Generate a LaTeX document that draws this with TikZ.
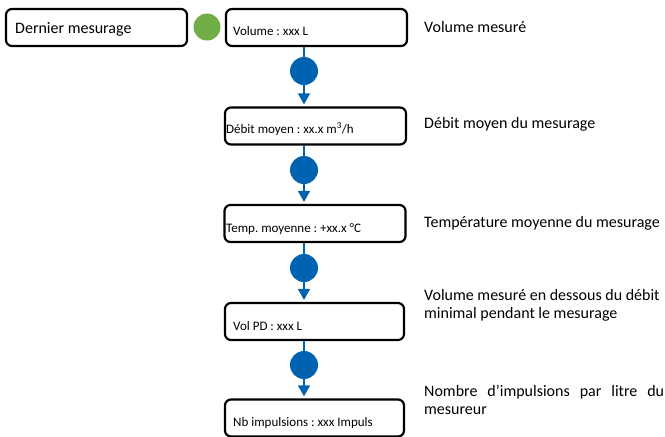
\documentclass[tikz,border=0pt]{standalone}
\usepackage{fontspec}
\setmainfont{Carlito}
\usetikzlibrary{arrows.meta}
\definecolor{flowblue}{RGB}{0,99,177}
\definecolor{dotgreen}{RGB}{112,173,71}
\frenchspacing
\begin{document}
\begin{tikzpicture}[x=1pt,y=-1pt,
  box/.style={draw=black, line width=2.2pt, rounded corners=6pt, minimum width=181pt, minimum height=37pt, inner sep=0pt},
  dot/.style={circle, fill=flowblue, minimum size=28pt, inner sep=0pt},
  gdot/.style={circle, fill=dotgreen, minimum size=27pt, inner sep=0pt},
  lbl/.style={anchor=base west, inner sep=0pt, font=\fontsize{13}{15}\selectfont},
  desc/.style={anchor=base west, inner sep=0pt, font=\fontsize{16}{18}\selectfont, align=left},
  link/.style={draw=flowblue, line width=1.5pt},
  arr/.style={link, -{Triangle[width=12pt,length=11pt]}, shorten >=2pt},
]
\useasboundingbox (0,0) rectangle (665,437);

% boxes
\node[box] (dernier) at (96.5,27.5) {};
\node[box] (vol) at (316.5,27.5) {};
\node[box] (debit) at (315.5,126) {};
\node[box] (temp) at (315,223.5) {};
\node[box, minimum width=179pt] (volpd) at (314.5,321.5) {};
\node[box, minimum width=179pt] (nb) at (314.5,418) {};

% dots
\node[gdot] (g) at (207,27) {};
\node[dot] (d1) at (304,71) {};
\node[dot] (d2) at (304,170) {};
\node[dot] (d3) at (304,268) {};
\node[dot] (d4) at (304,365) {};

% connectors
\draw[link] (vol.south -| d1) -- (d1);
\draw[arr] (d1) -- (debit.north -| d1);
\draw[link] (debit.south -| d2) -- (d2);
\draw[arr] (d2) -- (temp.north -| d2);
\draw[link] (temp.south -| d3) -- (d3);
\draw[arr] (d3) -- (volpd.north -| d3);
\draw[link] (volpd.south -| d4) -- (d4);
\draw[arr] (d4) -- (nb.north -| d4);

% box texts
\node[desc] (tdernier) at (15,33) {Dernier mesurage};
\node[lbl] (tvol) at (233,35) {Volume : xxx L};
\node[lbl] (tdebit) at (226,133) {Débit moyen : xx.x m\textsuperscript{3}/h};
\node[lbl] (ttemp) at (226,232) {Temp. moyenne : +xx.x °C};
\node[lbl] (tvolpd) at (233,330) {Vol PD : xxx L};
\node[lbl] (tnb) at (233,426) {Nb impulsions : xxx Impuls};

% descriptions
\node[desc] (e1) at (424,32) {Volume mesuré};
\node[desc] (e2) at (424,128) {Débit moyen du mesurage};
\node[desc] (e3) at (424,227) {Température moyenne du mesurage};
\node[desc] (e4) at (424,318) {Volume mesuré en dessous du débit\\minimal pendant le mesurage};
\node[desc] (e5) at (424,414) {\hbox to 240pt{Nombre\hfill d’impulsions\hfill par\hfill litre\hfill du}\\mesureur};
\end{tikzpicture}
\end{document}
